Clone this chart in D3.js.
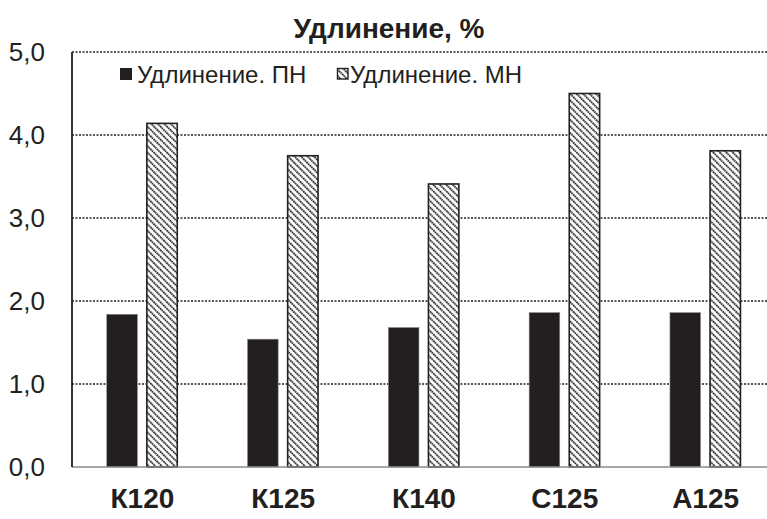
<!DOCTYPE html>
<html><head><meta charset="utf-8">
<script src="https://cdn.jsdelivr.net/npm/d3@7"></script>
<style>body{margin:0;background:#fff}svg{display:block}text{font-family:"Liberation Sans",Arial,sans-serif;fill:#231f20}</style>
</head><body><svg id="c" width="767" height="519"></svg>
<script>
const categories = ["К120","К125","К140","С125","А125"];
const seriesNames = ["Удлинение. ПН","Удлинение. МН"];
const valuesPN = [1.84, 1.54, 1.68, 1.86, 1.86];
const valuesMN = [4.14, 3.75, 3.41, 4.50, 3.81];
const yTicks = [0,1,2,3,4,5];
const title = "Удлинение, %";

const svg = d3.select("#c");
const m = {l:72, t:52, b:52};
const W = 704, H = 519 - m.t - m.b;
const defs = svg.append("defs");
const pat = defs.append("pattern").attr("id","hatch").attr("patternUnits","userSpaceOnUse")
  .attr("width",4.6).attr("height",4.6).attr("patternTransform","rotate(-45)");
pat.append("rect").attr("width",4.6).attr("height",4.6).attr("fill","#fff");
pat.append("line").attr("x1",1).attr("y1",0).attr("x2",1).attr("y2",4.6)
  .attr("stroke","#231f20").attr("stroke-width",1.9).attr("stroke-dasharray","1.7,0.6");

const x = d3.scaleBand().domain(categories).range([m.l, m.l+W]).paddingInner(0).paddingOuter(0);
const y = d3.scaleLinear().domain([0,5]).range([m.t+H, m.t]);

const g = svg.append("g");
g.selectAll(".grid").data(yTicks.filter(d=>d>0)).join("line")
  .attr("x1",m.l).attr("x2",767).attr("y1",d=>y(d)).attr("y2",d=>y(d))
  .attr("stroke","#231f20").attr("stroke-width",1.6).attr("stroke-dasharray","2,1.5");

const bw = 30.6, gap = 8.7, hw = 32;
const groupW = bw + gap + hw;
categories.forEach((c,i)=>{
  const cx = x(c) + x.bandwidth()/2;
  const x0 = cx - groupW/2;
  g.append("rect").attr("x",x0).attr("y",y(valuesPN[i])).attr("width",bw)
    .attr("height",y(0)-y(valuesPN[i])).attr("fill","#231f20").attr("stroke","#888").attr("stroke-width",0.6);
  g.append("rect").attr("x",x0+bw+gap+0.8).attr("y",y(valuesMN[i])).attr("width",hw-1.6)
    .attr("height",y(0)-y(valuesMN[i])).attr("fill","url(#hatch)").attr("stroke","#231f20").attr("stroke-width",1.6);
});

g.append("line").attr("x1",m.l).attr("x2",767).attr("y1",y(0)).attr("y2",y(0))
  .attr("stroke","#8a8a8a").attr("stroke-width",1.6);
g.append("line").attr("x1",m.l).attr("x2",m.l).attr("y1",y(0)).attr("y2",y(5))
  .attr("stroke","#231f20").attr("stroke-width",1.8);

const fmt = d => d3.format(".1f")(d).replace(".",",");
g.selectAll(".yl").data(yTicks).join("text").attr("x",45).attr("y",d=>y(d)).attr("dy","0.35em")
  .attr("text-anchor","end").style("font-size","26px").text(fmt);

g.selectAll(".xl").data(categories).join("text")
  .attr("x",d=>x(d)+x.bandwidth()/2).attr("y",508).attr("text-anchor","middle")
  .style("font-size","28px").style("font-weight","bold").text(d=>d);

svg.append("text").attr("x",389).attr("y",38).attr("text-anchor","middle")
  .style("font-size","28px").style("font-weight","bold").text(title);

const lg = svg.append("g");
lg.append("rect").attr("x",120).attr("y",68).attr("width",12).attr("height",12).attr("fill","#231f20");
lg.append("text").attr("x",137).attr("y",83).style("font-size","24px").text(seriesNames[0]);
lg.append("rect").attr("x",337.5).attr("y",68.5).attr("width",10.5).attr("height",10.5).attr("fill","url(#hatch)")
  .attr("stroke","#231f20").attr("stroke-width",1.4);
lg.append("text").attr("x",350).attr("y",83).style("font-size","24px").text(seriesNames[1]);
</script></body></html>
